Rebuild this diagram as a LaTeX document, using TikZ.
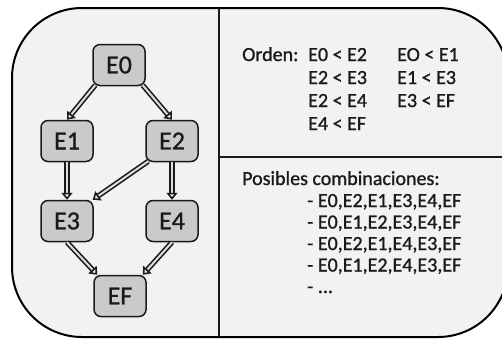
\documentclass[tikz,border=0pt]{standalone}
\usepackage{fontspec}
\setmainfont{Carlito}[FakeBold=1]
\usetikzlibrary{arrows.meta}
\definecolor{bg}{HTML}{F2F2F2}
\definecolor{nodefill}{HTML}{CACACA}
\definecolor{ink}{HTML}{1A1A1A}
\definecolor{gap}{HTML}{DDDDDD}
\begin{document}
\begin{tikzpicture}[x=1pt,y=-1pt,
  state/.style={draw=ink, line width=1.5pt, fill=nodefill, rounded corners=7pt,
    minimum width=52pt, minimum height=41pt, inner sep=0pt,
    font=\fontsize{26}{26}\selectfont, text=ink},
  txt/.style={anchor=base west, inner sep=0pt, font=\fontsize{20}{20}\selectfont, text=ink},
  dar/.style={draw=ink, line width=1.6pt, double=gap, double distance=2pt,
    -{Triangle[open, length=7pt, width=11pt]}}]
\clip (0,0) rectangle (502,338);
\useasboundingbox (0,0) rectangle (502,338);
\draw[line width=2pt, draw=black, fill=bg, rounded corners=70pt] (12,8) rectangle (508,337);
\draw[line width=1.2pt, draw=ink] (219,8) -- (219,337);
\draw[line width=1.2pt, draw=ink] (219,157) -- (508,157);

\node[state] (E0) at (119,65) {E0};
\node[state] (E1) at (67,141) {E1};
\node[state] (E2) at (172,141) {E2};
\node[state] (E3) at (67,221) {E3};
\node[state] (E4) at (172,221) {E4};
\node[state] (EF) at (120,296) {EF};

\draw[dar] ([xshift=3pt,yshift=1pt]E0.south west) -- (E1.north);
\draw[dar] ([xshift=-3pt,yshift=1pt]E0.south east) -- (E2.north);
\draw[dar] (E1.south) -- (E3.north);
\draw[dar] (E2.south) -- (E4.north);
\draw[dar] ([xshift=3pt,yshift=1pt]E2.south west) -- ([xshift=-1pt]E3.north east);
\draw[dar] (E3.south) -- ([xshift=4pt]EF.north west);
\draw[dar] (E4.south) -- ([xshift=-4pt]EF.north east);

\node[txt] (orden) at (242,61) {Orden:};
\node[txt] (o1) at (308,61) {E0 < E2};
\node[txt] (o2) at (397,61) {EO < E1};
\node[txt] (o3) at (308,84) {E2 < E3};
\node[txt] (o4) at (397,84) {E1 < E3};
\node[txt] (o5) at (308,107) {E2 < E4};
\node[txt] (o6) at (397,107) {E3 < EF};
\node[txt] (o7) at (308,130) {E4 < EF};

\node[txt] (pos) at (242,185) {Posibles combinaciones:};
\node[txt] (c1) at (307,207) {- E0,E2,E1,E3,E4,EF};
\node[txt] (c2) at (307,228.5) {- E0,E1,E2,E3,E4,EF};
\node[txt] (c3) at (307,250) {- E0,E2,E1,E4,E3,EF};
\node[txt] (c4) at (307,271.5) {- E0,E1,E2,E4,E3,EF};
\node[txt] (c5) at (307,293) {- ...};
\end{tikzpicture}
\end{document}
